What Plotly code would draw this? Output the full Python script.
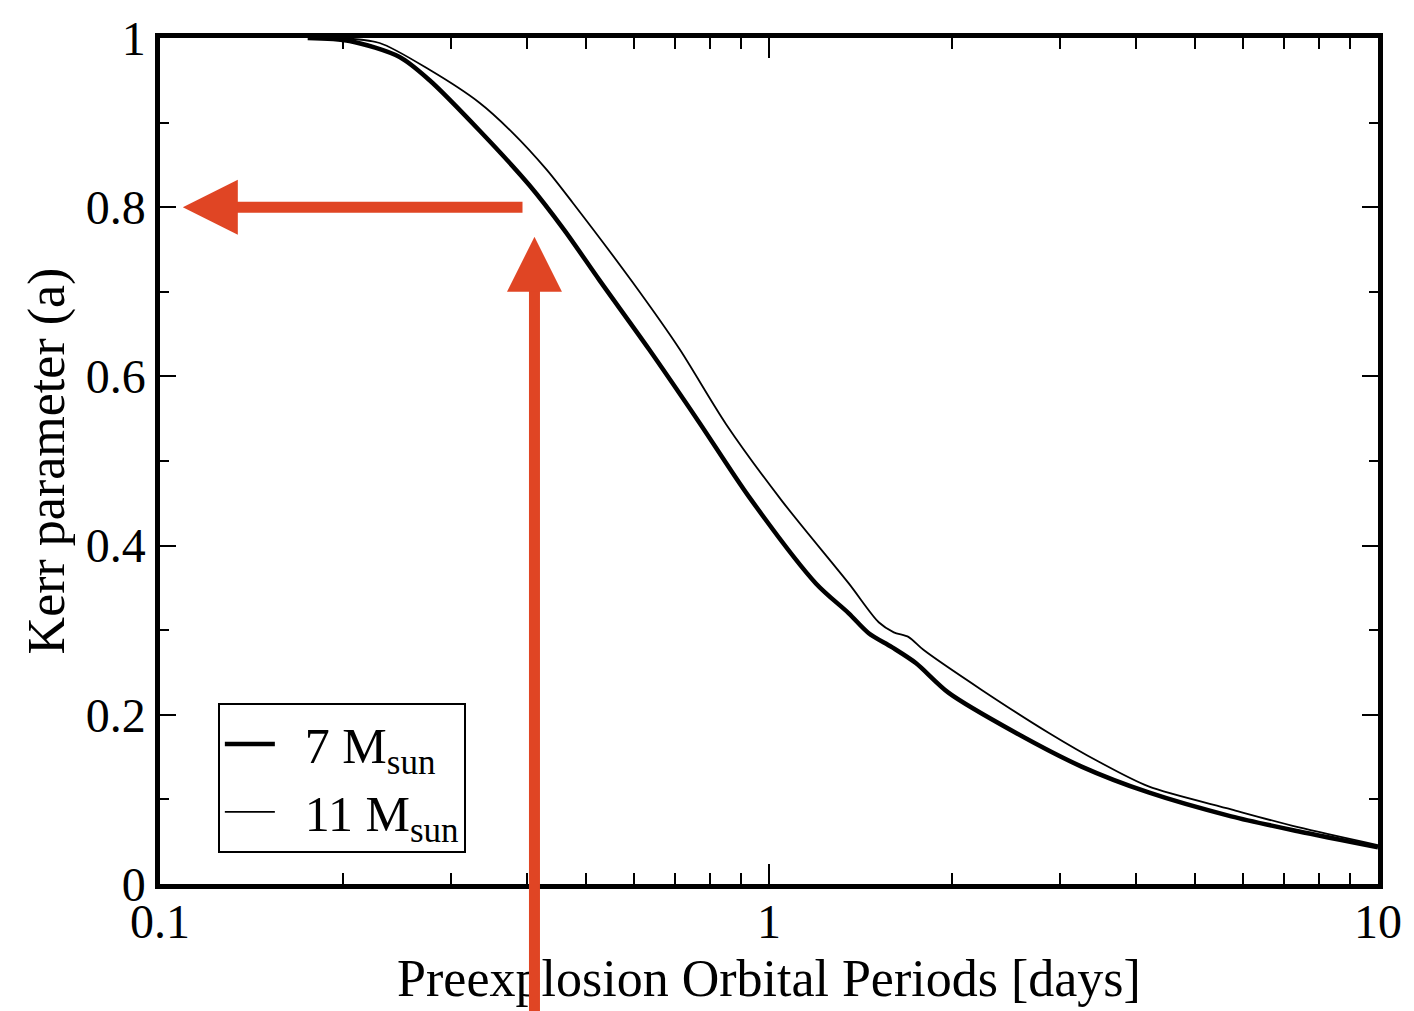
import numpy as np
import plotly.graph_objects as go

# ---- data ----
period_7 = [0.1748, 0.2048, 0.2474, 0.2771, 0.3346, 0.4042, 0.4612, 0.5263, 0.6357, 0.7677,
            0.9273, 1.194, 1.352, 1.458, 1.591, 1.742, 1.973, 2.541, 3.26, 4.20, 5.74, 7.39, 10.0]
kerr_7 = [1.0, 0.9965, 0.9775, 0.950, 0.8906, 0.8259, 0.7729, 0.7141, 0.6318, 0.5459,
          0.4576, 0.3553, 0.3200, 0.2965, 0.2800, 0.2612, 0.2259, 0.1788, 0.1388, 0.1082,
          0.0800, 0.0624, 0.0435]

period_11 = [0.1973, 0.2294, 0.2771, 0.3346, 0.3791, 0.4310, 0.4754, 0.5963, 0.7121, 0.8502,
             1.050, 1.352, 1.514, 1.603, 1.696, 1.795, 2.235, 2.877, 3.475, 4.20, 5.74, 7.39, 10.0]
kerr_11 = [1.0, 0.9941, 0.9624, 0.9235, 0.8882, 0.8447, 0.8059, 0.7118, 0.6329, 0.5435,
           0.4529, 0.3553, 0.3094, 0.2975, 0.2918, 0.2765, 0.2294, 0.1788, 0.1447, 0.1153,
           0.0882, 0.0671, 0.0459]

series_names = ["\u00a0\u00a07 M<sub>sun</sub>", "\u00a0\u00a011 M<sub>sun</sub>"]
x_ticks = [0.1, 1, 10]
x_tick_labels = ["0.1", "1", "10"]
x_minor_ticks = [0.2, 0.3, 0.4, 0.5, 0.6, 0.7, 0.8, 0.9, 2, 3, 4, 5, 6, 7, 8, 9]
y_ticks = [0, 0.2, 0.4, 0.6, 0.8, 1]
y_tick_labels = ["0", "0.2", "0.4", "0.6", "0.8", "1"]

# arrow anchors (data units)
h_arrow_tail = (0.396, 0.8)
h_arrow_tip = (0.109, 0.8)
v_arrow_tail = (0.412, -0.16)
v_arrow_tip = (0.412, 0.765)

RED = "#e04524"
FONT = "Liberation Serif"

fig = go.Figure()
fig.add_trace(go.Scatter(x=period_7, y=kerr_7, mode="lines", name=series_names[0],
                         line=dict(color="black", width=4.5, shape="spline", smoothing=0.8)))
fig.add_trace(go.Scatter(x=period_11, y=kerr_11, mode="lines", name=series_names[1],
                         line=dict(color="black", width=1.8, shape="spline", smoothing=0.8)))

for tail, tip in [(h_arrow_tail, h_arrow_tip), (v_arrow_tail, v_arrow_tip)]:
    fig.add_annotation(x=np.log10(tip[0]), y=tip[1], ax=np.log10(tail[0]), ay=tail[1],
                       xref="x", yref="y", axref="x", ayref="y", text="",
                       showarrow=True, arrowhead=2, arrowsize=1, arrowwidth=11,
                       arrowcolor=RED, standoff=0, startstandoff=0)

fig.update_layout(
    width=1414, height=1011,
    margin=dict(l=160, r=34, t=35, b=126),
    paper_bgcolor="white", plot_bgcolor="white",
    font=dict(family=FONT, color="black", size=48),
    showlegend=True,
    legend=dict(x=0.0475, y=0.214, xanchor="left", yanchor="top",
                bgcolor="white", bordercolor="black", borderwidth=2,
                itemwidth=50, font=dict(family=FONT, size=50), tracegroupgap=0),
)
fig.update_xaxes(type="log", range=[-1, 1], showgrid=False, zeroline=False,
                 showline=True, linecolor="black", linewidth=4.5, mirror="ticks",
                 ticks="inside", ticklen=20, tickwidth=2, tickcolor="black",
                 tickvals=x_ticks, ticktext=x_tick_labels, ticklabelstandoff=-8,
                 tickfont=dict(family=FONT, size=48),
                 minor=dict(ticks="inside", ticklen=11, tickwidth=2, tickcolor="black",
                            tickvals=x_minor_ticks, showgrid=False),
                 title=dict(text="Preexplosion Orbital Periods [days]", standoff=14,
                            font=dict(family=FONT, size=52)))
fig.update_yaxes(range=[0, 1], showgrid=False, zeroline=False,
                 showline=True, linecolor="black", linewidth=4.5, mirror="ticks",
                 ticks="inside", ticklen=16, tickwidth=2, tickcolor="black",
                 tickvals=y_ticks, ticktext=y_tick_labels,
                 tickfont=dict(family=FONT, size=48),
                 minor=dict(ticks="inside", ticklen=9, tickwidth=2, tickcolor="black",
                            dtick=0.1, showgrid=False),
                 title=dict(text="Kerr parameter (a)", standoff=6,
                            font=dict(family=FONT, size=52)))

fig.write_html("out.html")
